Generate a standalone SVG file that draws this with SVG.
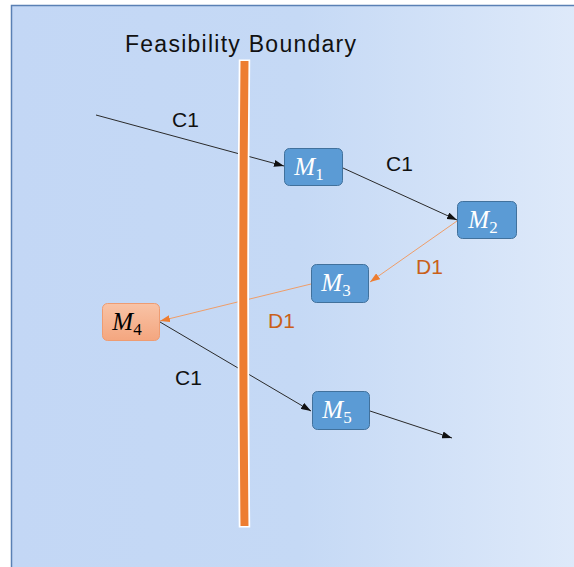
<svg xmlns="http://www.w3.org/2000/svg" width="574" height="567" viewBox="0 0 574 567">
  <defs>
    <linearGradient id="bg" x1="0" y1="0" x2="1" y2="0">
      <stop offset="0" stop-color="#c3d7f5"/>
      <stop offset="0.5" stop-color="#c5d9f5"/>
      <stop offset="1" stop-color="#dfeafa"/>
    </linearGradient>
    <linearGradient id="warm" x1="0" y1="0" x2="0" y2="1">
      <stop offset="0" stop-color="#f8c3a6"/>
      <stop offset="1" stop-color="#f4a67f"/>
    </linearGradient>
    <marker id="arrowDark" viewBox="0 0 10 7" refX="10" refY="3.5" markerWidth="10" markerHeight="7" markerUnits="userSpaceOnUse" orient="auto">
      <path d="M0,0 L10,3.5 L0,7 z" fill="#111"/>
    </marker>
    <marker id="arrowWarm" viewBox="0 0 10 7" refX="10" refY="3.5" markerWidth="10" markerHeight="7" markerUnits="userSpaceOnUse" orient="auto">
      <path d="M0,0 L10,3.5 L0,7 z" fill="#ed7d31"/>
    </marker>
    <style>
      .lbl { font-family: "Liberation Sans", Arial, sans-serif; font-size: 21px; }
      .title { font-family: "Liberation Sans", Arial, sans-serif; font-size: 23px; }
      .dark { fill: #111; }
      .warmText { fill: #c9601a; }
      .conn { fill: none; stroke-width: 1; }
      .c-dark { stroke: #2a2a2a; marker-end: url(#arrowDark); }
      .c-warm { stroke: #ef9d68; marker-end: url(#arrowWarm); }
      .box { fill: #5b9bd5; stroke: #41719c; stroke-width: 1; }
      .boxWarm { fill: url(#warm); stroke: #ee9c72; stroke-width: 1; }
      .m { font-family: "Liberation Serif", "Times New Roman", serif; font-size: 25px; text-anchor: middle; }
      .m .sub { font-size: 17px; font-style: normal; }
    </style>
  </defs>

  <!-- backdrop panel -->
  <rect x="11.5" y="5.5" width="575" height="575" fill="url(#bg)" stroke="#5a80b4" stroke-width="1.5"/>

  <!-- title -->
  <text class="title dark" x="125" y="52" textLength="231" lengthAdjust="spacing">Feasibility Boundary</text>

  <!-- connectors -->
  <g id="connectors">
    <line class="conn c-dark" x1="96" y1="115" x2="284" y2="166"/>
    <line class="conn c-dark" x1="343" y1="168" x2="457" y2="220"/>
    <line class="conn c-warm" x1="457" y1="221" x2="370" y2="282"/>
    <line class="conn c-warm" x1="311" y1="284" x2="160" y2="321"/>
    <line class="conn c-dark" x1="160" y1="322" x2="311" y2="411"/>
    <line class="conn c-dark" x1="370" y1="411" x2="452" y2="438"/>
  </g>

  <!-- boundary bar -->
  <g id="boundary">
    <path d="M244.5,59.5 Q242,300 244.5,527.5" fill="none" stroke="#ffffff" stroke-width="11.5"/>
    <path d="M244.5,61 Q242,300 244.5,526" fill="none" stroke="#ed7d31" stroke-width="8"/>
  </g>

  <!-- connector labels -->
  <g id="labels">
    <text class="lbl dark" x="172" y="127">C1</text>
    <text class="lbl dark" x="386" y="171">C1</text>
    <text class="lbl warmText" x="416" y="274">D1</text>
    <text class="lbl warmText" x="268" y="328">D1</text>
    <text class="lbl dark" x="175" y="385">C1</text>
  </g>

  <g id="M1">
    <rect class="box" x="284.5" y="148.5" width="58" height="37" rx="5"/>
    <text class="m" x="309" y="175" fill="#fff"><tspan font-style="italic">M</tspan><tspan class="sub" dy="5">1</tspan></text>
  </g>
  <g id="M2">
    <rect class="box" x="457.5" y="201.5" width="59" height="37" rx="5"/>
    <text class="m" x="483" y="228" fill="#fff"><tspan font-style="italic">M</tspan><tspan class="sub" dy="5">2</tspan></text>
  </g>
  <g id="M3">
    <rect class="box" x="311.5" y="264.5" width="57" height="38" rx="5"/>
    <text class="m" x="336" y="291" fill="#fff"><tspan font-style="italic">M</tspan><tspan class="sub" dy="5">3</tspan></text>
  </g>
  <g id="M4">
    <rect class="boxWarm" x="102.5" y="303.5" width="57" height="37" rx="5"/>
    <text class="m" x="127" y="330" fill="#000"><tspan font-style="italic">M</tspan><tspan class="sub" dy="5">4</tspan></text>
  </g>
  <g id="M5">
    <rect class="box" x="312.5" y="391.5" width="57" height="38" rx="5"/>
    <text class="m" x="337" y="418" fill="#fff"><tspan font-style="italic">M</tspan><tspan class="sub" dy="5">5</tspan></text>
  </g>
</svg>
